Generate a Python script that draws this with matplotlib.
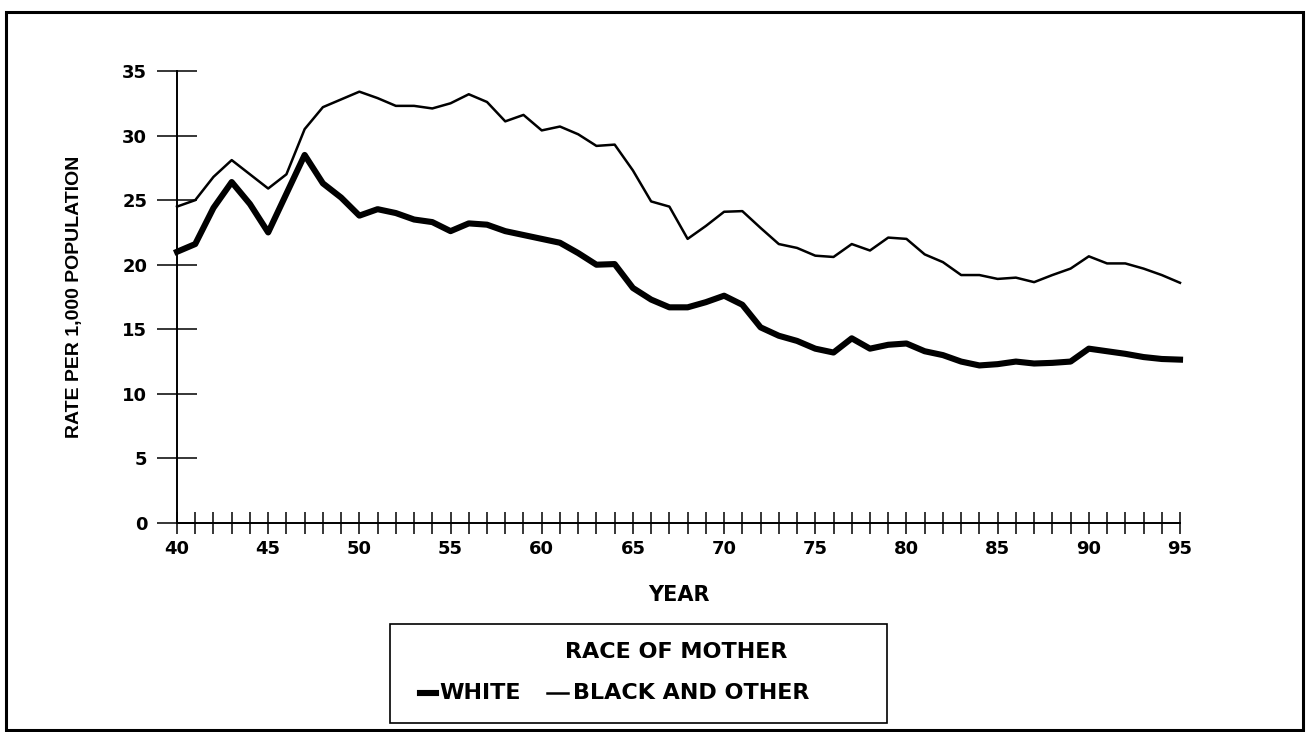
import matplotlib.pyplot as plt
from matplotlib.lines import Line2D
from matplotlib.patches import Rectangle

# Birth rate per 1,000 population, by race of mother (years 1940-1995)
years = list(range(40, 96))

white = [
    21.0, 21.6, 24.4, 26.4, 24.7, 22.5, 25.5, 28.5, 26.3, 25.2,
    23.8, 24.3, 24.0, 23.5, 23.3, 22.6, 23.2, 23.1, 22.6, 22.3,
    22.0, 21.7, 20.9, 20.0, 20.05, 18.2, 17.3, 16.7, 16.7, 17.1,
    17.6, 16.9, 15.15, 14.5, 14.1, 13.5, 13.2, 14.3, 13.5, 13.8,
    13.9, 13.3, 13.0, 12.5, 12.2, 12.3, 12.5, 12.35, 12.4, 12.5,
    13.5, 13.3, 13.1, 12.85, 12.7, 12.65,
]

black_other = [
    24.5, 25.0, 26.8, 28.1, 27.0, 25.9, 27.0, 30.5, 32.2, 32.8,
    33.4, 32.9, 32.3, 32.3, 32.1, 32.5, 33.2, 32.6, 31.1, 31.6,
    30.4, 30.7, 30.1, 29.2, 29.3, 27.3, 24.9, 24.5, 22.0, 23.0,
    24.1, 24.15, 22.85, 21.6, 21.3, 20.7, 20.6, 21.6, 21.1, 22.1,
    22.0, 20.8, 20.2, 19.2, 19.2, 18.9, 19.0, 18.65, 19.2, 19.7,
    20.65, 20.1, 20.1, 19.7, 19.2, 18.6,
]

x_labels = [str(y) if y % 5 == 0 else "" for y in years]
y_ticks = [0, 5, 10, 15, 20, 25, 30, 35]

series_names = ["WHITE", "BLACK AND OTHER"]
legend_title = "RACE OF MOTHER"

W, H = 1307, 732
fig = plt.figure(figsize=(W / 100, H / 100), dpi=100)
fig.patch.set_facecolor("white")

ax = fig.add_axes([177 / W, 1 - 523 / H, (1180 - 177) / W, (523 - 71) / H])

ax.plot(years, white, color="black", linewidth=4.4, solid_joinstyle="round",
        clip_on=False)
ax.plot(years, black_other, color="black", linewidth=1.8, solid_joinstyle="round",
        clip_on=False)

ax.set_xlim(40, 95)
ax.set_ylim(0, 35)

# axes: only left and bottom lines, ticks crossing the axis
for side in ["top", "right"]:
    ax.spines[side].set_visible(False)
for side in ["left", "bottom"]:
    ax.spines[side].set_linewidth(1.4)

ax.set_xticks(years)
ax.set_xticklabels(x_labels, fontsize=13, fontweight="bold")
ax.set_yticks(y_ticks)
ax.set_yticklabels([str(v) for v in y_ticks], fontsize=13, fontweight="bold")
ax.tick_params(axis="y", direction="inout", length=29, width=1.1, pad=7)
ax.tick_params(axis="x", direction="inout", length=16, width=1.1, pad=4)

ax.set_xlabel("YEAR", fontsize=15, fontweight="bold", labelpad=20)
ax.set_ylabel("RATE PER 1,000 POPULATION", fontsize=14, fontweight="bold",
              family=["Liberation Sans", "DejaVu Sans"], labelpad=28)

# legend box below the chart (drawn by hand to match the original layout)
fig.patches.append(Rectangle((390 / W, 1 - 723 / H), (887 - 390) / W, (723 - 624) / H,
                             transform=fig.transFigure, fill=False,
                             edgecolor="black", linewidth=1.2))
fig.text(676 / W, 1 - 652 / H, legend_title, ha="center", va="center",
         fontsize=16, fontweight="bold")

row_y = 1 - 693 / H
fig.add_artist(Line2D([420 / W, 436 / W], [row_y, row_y], color="black",
                      linewidth=4.4, transform=fig.transFigure))
fig.text(439 / W, row_y, series_names[0], ha="left", va="center",
         fontsize=16, fontweight="bold")
fig.add_artist(Line2D([547 / W, 568 / W], [row_y, row_y], color="black",
                      linewidth=1.8, transform=fig.transFigure))
fig.text(573 / W, row_y, series_names[1], ha="left", va="center",
         fontsize=16, fontweight="bold")

# outer frame round the whole figure
fig.patches.append(Rectangle((6 / W, 2 / H), (1303 - 6) / W, (720 - 2) / H,
                             transform=fig.transFigure, fill=False,
                             edgecolor="black", linewidth=2.2))

fig.savefig("out.png", dpi=100)
plt.close(fig)
